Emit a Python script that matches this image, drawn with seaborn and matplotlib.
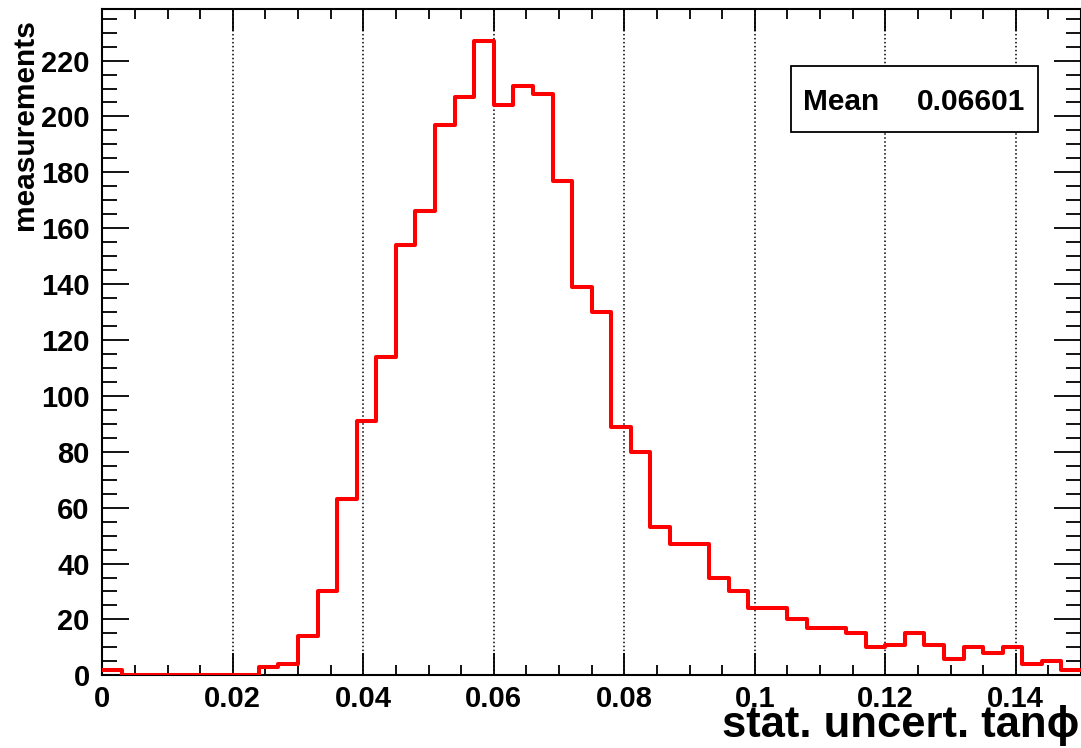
import numpy as np
import pandas as pd
import matplotlib
matplotlib.use("Agg")
import matplotlib.pyplot as plt
from matplotlib.patches import Rectangle
from matplotlib.ticker import MultipleLocator, FuncFormatter
import seaborn as sns

# histogram of stat. uncertainty, 50 bins of 0.003 from 0 to 0.15
bin_width = 0.003
n_bins = 50
counts = [2, 0, 0, 0, 0, 0, 0, 0, 3, 4,
          14, 30, 63, 91, 114, 154, 166, 197, 207, 227,
          204, 211, 208, 177, 139, 130, 89, 80, 53, 47,
          47, 35, 30, 24, 24, 20, 17, 17, 15, 10,
          11, 15, 11, 6, 10, 8, 10, 4, 5, 2]
mean_text = "0.06601"
x_ticks = [0, 0.02, 0.04, 0.06, 0.08, 0.1, 0.12, 0.14]
y_ticks = [0, 20, 40, 60, 80, 100, 120, 140, 160, 180, 200, 220]

edges = np.arange(n_bins + 1) * bin_width
centers = edges[:-1] + bin_width / 2
df = pd.DataFrame({"x": centers, "n": counts})

sns.set_style("ticks")
plt.rcParams['font.family'] = ['Liberation Sans', 'DejaVu Sans']
plt.rcParams['font.weight'] = 'bold'
for k in ['text.color', 'axes.labelcolor', 'xtick.color', 'ytick.color']:
  plt.rcParams[k] = 'black'

W, H = 1081, 748
fig = plt.figure(figsize=(W / 100, H / 100), dpi=100)
ax = fig.add_axes([102.3 / W, 1 - 675.3 / H, (W - 102.3) / W, (675.3 - 9.3) / H])

sns.histplot(data=df, x="x", weights="n", binwidth=bin_width,
             binrange=(0, n_bins * bin_width), element="step",
             fill=False, color="#ff0000", linewidth=2.9, ax=ax, zorder=3)

ax.set_xlim(0, 0.15)
ax.set_ylim(0, max(counts) * 1.05)
ax.set_xlabel("")
ax.set_ylabel("")
ax.set_xticks(x_ticks)
ax.set_yticks(y_ticks)
ax.xaxis.set_minor_locator(MultipleLocator(0.005))
ax.yaxis.set_minor_locator(MultipleLocator(5))
ax.xaxis.set_major_formatter(FuncFormatter(lambda v, p: "%g" % round(v, 4)))

ax.grid(axis="x", which="major", linestyle=(0, (1, 1.6)), color="black", linewidth=1.1)
ax.set_axisbelow(True)

for s in ax.spines.values():
  s.set_visible(True)
  s.set_linewidth(1.5)
  s.set_color("black")

ax.tick_params(axis="x", which="major", direction="in", top=True, length=16, width=1.3,
               labelsize=21, pad=7)
ax.tick_params(axis="x", which="minor", direction="in", top=True, length=7.5, width=1.3)
ax.tick_params(axis="y", which="major", direction="in", right=True, length=19.5, width=1.3,
               labelsize=21, pad=9)
ax.tick_params(axis="y", which="minor", direction="in", right=True, length=10.5, width=1.3)
for lab in ax.get_xticklabels() + ax.get_yticklabels():
  lab.set_fontweight("bold")

# axis titles, ROOT style (aligned to the end of the axes)
xt = fig.text(722 / W, 1.5 / H, "stat. uncert. tan\u03d5", fontsize=33, fontweight="bold",
              ha="left", va="bottom")
# shrink so the title stays inside the canvas
r = fig.canvas.get_renderer()
wpx = xt.get_window_extent(r).width
if wpx > (W - 2 - 722):
  xt.set_fontsize(33 * (W - 2 - 722) / wpx)
fig.text(25 / W, 1 - 19 / H, "measurements", rotation=90, fontsize=21.5,
         fontweight="bold", ha="center", va="top")

# stats box
box = Rectangle((790.7 / W, 1 - 132.3 / H), (1037.6 - 790.7) / W, (132.3 - 65.7) / H,
                transform=fig.transFigure, facecolor="white", edgecolor="black",
                linewidth=1.3, zorder=5)
fig.patches.append(box)
fig.text(803.4 / W, 1 - 110.5 / H, "Mean", fontsize=21.5, fontweight="bold",
         ha="left", va="baseline", zorder=6)
fig.text(1025.5 / W, 1 - 110.5 / H, mean_text, fontsize=21.5, fontweight="bold",
         ha="right", va="baseline", zorder=6)

fig.savefig("out.png", dpi=100)
